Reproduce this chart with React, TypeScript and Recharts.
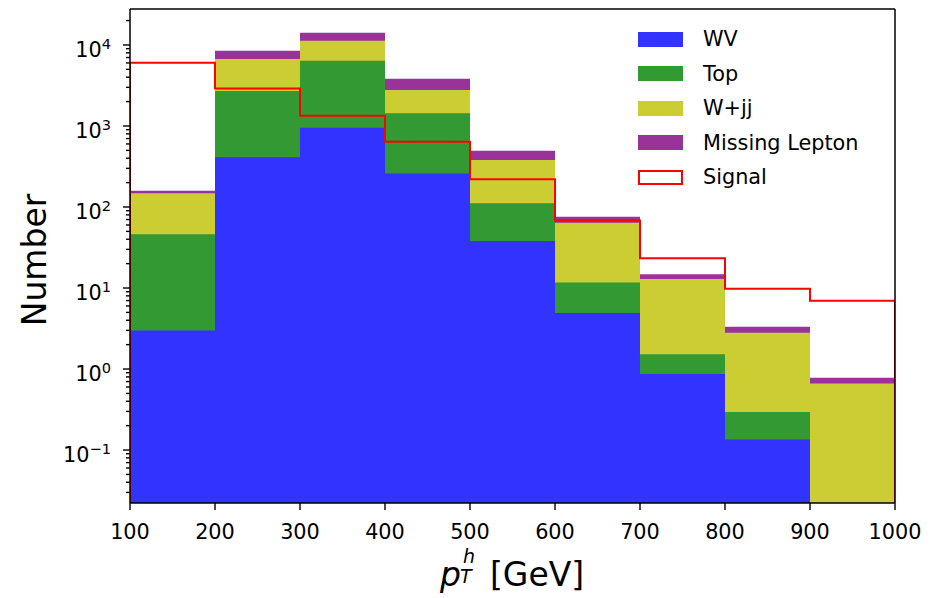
import { ComposedChart, Bar, Line, XAxis, YAxis, Label, ReferenceLine } from "recharts";

// ─── DATA ────────────────────────────────────────────────────────────

const BINS = ["100-200", "200-300", "300-400", "400-500", "500-600", "600-700", "700-800", "800-900", "900-1000"];
const EDGES = [100, 200, 300, 400, 500, 600, 700, 800, 900, 1000];

// per-bin contributions (stacked in this order)
const WV = [3.0, 410, 950, 260, 38, 4.9, 0.87, 0.135, 0];
const TOP = [43, 2290, 5450, 1175, 73, 6.8, 0.65, 0.16, 0];
const WJJ = [102, 4000, 4900, 1344, 269, 52.3, 11.4, 2.5, 0.665];
const MISSING_LEPTON = [11, 1800, 2900, 1060, 115, 12, 1.9, 0.53, 0.115];
const SIGNAL = [6050, 2900, 1340, 640, 220, 68, 23.3, 9.8, 6.97];

const X_TICKS = EDGES;
const Y_RANGE: [number, number] = [0.0222, 27800];

const COLORS = {
  wv: "#3333ff",
  top: "#339933",
  wjj: "#cccc33",
  ml: "#993399",
  signal: "#ff0000",
};

const FONT = "'DejaVu Sans', sans-serif";

// ─── DERIVED TABLES ──────────────────────────────────────────────────

// empty cells sit on the axis floor (log scale can't take 0)
const floor = (v: number) => Math.max(v, Y_RANGE[0]);

// cumulative heights, drawn back-to-front as overlapping bars
const stackRows = BINS.map((bin, i) => {
  const wv = WV[i];
  const top = wv + TOP[i];
  const wjj = top + WJJ[i];
  const ml = wjj + MISSING_LEPTON[i];
  return { bin, wv: floor(wv), top: floor(top), wjj: floor(wjj), ml: floor(ml) };
});

// histtype="step" outline: up at the first edge, down at the last
const signalRows = [
  { x: EDGES[0], y: Y_RANGE[0] },
  ...SIGNAL.map((v, i) => ({ x: EDGES[i], y: v })),
  { x: EDGES[EDGES.length - 1], y: SIGNAL[SIGNAL.length - 1] },
  { x: EDGES[EDGES.length - 1], y: Y_RANGE[0] },
];

// log ticks: majors at decades, minors at 2..9
const yTicks: number[] = [];
for (let e = -2; e <= 4; e++) {
  for (let m = 1; m <= 9; m++) {
    const v = m * Math.pow(10, e);
    if (v >= Y_RANGE[0] && v <= Y_RANGE[1]) yTicks.push(v);
  }
}

const LEGEND = [
  { name: "WV", color: COLORS.wv },
  { name: "Top", color: COLORS.top },
  { name: "W+jj", color: COLORS.wjj },
  { name: "Missing Lepton", color: COLORS.ml },
  { name: "Signal", color: COLORS.signal, outline: true },
];

// ─── TICKS ───────────────────────────────────────────────────────────

function YTick(props: any) {
  const { x, y, payload } = props;
  const lg = Math.log10(payload.value);
  const exp = Math.round(lg);
  const major = Math.abs(lg - exp) < 1e-6;
  return (
    <g>
      <line x1={x} x2={x - (major ? 7 : 4)} y1={y} y2={y} stroke="#000" strokeWidth={1.4} />
      {major && (
        <text x={x - 19} y={y + 11.7} textAnchor="end" fontSize={20.8} fill="#000" fontFamily={FONT}>
          10
          <tspan dy={-7.4} fontSize={14.6}>
            {exp < 0 ? `\u2212${-exp}` : exp}
          </tspan>
        </text>
      )}
    </g>
  );
}

// ─── COMPONENT ───────────────────────────────────────────────────────

export default function App() {
  return (
    <div style={{ position: "fixed", left: 0, top: 0, width: 934, height: 598, background: "#fff", fontFamily: FONT }}>
      <ComposedChart
        width={934}
        height={598}
        data={stackRows}
        margin={{ top: 9, right: 39, bottom: 0, left: 0 }}
        barGap="-100%"
        barCategoryGap={0}
      >
        <XAxis xAxisId="cat" dataKey="bin" hide height={0} />
        <YAxis
          scale="log"
          type="number"
          domain={Y_RANGE}
          allowDataOverflow
          ticks={yTicks}
          interval={0}
          width={130}
          tickSize={0}
          tickMargin={0}
          tickLine={false}
          tick={<YTick />}
          axisLine={{ stroke: "#000", strokeWidth: 1.5 }}
        >
          <Label
            content={() => (
              <text transform="translate(46,260) rotate(-90)" textAnchor="middle" fontSize={33} fill="#000" fontFamily={FONT}>
                Number
              </text>
            )}
          />
        </YAxis>

        <Bar xAxisId="cat" dataKey="ml" fill={COLORS.ml} isAnimationActive={false} />
        <Bar xAxisId="cat" dataKey="wjj" fill={COLORS.wjj} isAnimationActive={false} />
        <Bar xAxisId="cat" dataKey="top" fill={COLORS.top} isAnimationActive={false} />
        <Bar xAxisId="cat" dataKey="wv" fill={COLORS.wv} isAnimationActive={false} />

        <Line
          xAxisId="num"
          data={signalRows}
          dataKey="y"
          type="stepAfter"
          stroke={COLORS.signal}
          strokeWidth={2}
          dot={false}
          activeDot={false}
          isAnimationActive={false}
        />

        {/* top and right spines of the box */}
        <ReferenceLine xAxisId="num" y={Y_RANGE[1]} stroke="#000" strokeWidth={1.5} />
        <ReferenceLine xAxisId="num" x={EDGES[EDGES.length - 1]} stroke="#000" strokeWidth={1.5} />

        <XAxis
          xAxisId="num"
          type="number"
          dataKey="x"
          domain={[EDGES[0], EDGES[EDGES.length - 1]]}
          allowDataOverflow
          ticks={X_TICKS}
          interval={0}
          height={95}
          tickSize={7}
          tickMargin={14}
          tick={{ fontSize: 20.8, fill: "#000", fontFamily: FONT }}
          tickLine={{ stroke: "#000", strokeWidth: 1.4 }}
          axisLine={{ stroke: "#000", strokeWidth: 1.5 }}
        >
          <Label
            content={() => (
              <text fill="#000" fontFamily={FONT} fontSize={33}>
                <tspan x={440} y={586} fontStyle="italic">p</tspan>
                <tspan x={463} y={563} fontSize={19} fontStyle="italic">h</tspan>
                <tspan x={460} y={583} fontSize={19} fontStyle="italic">T</tspan>
                <tspan x={490} y={586}>[GeV]</tspan>
              </text>
            )}
          />
        </XAxis>
      </ComposedChart>

      {/* Legend */}
      {LEGEND.map((d, i) => (
        <div
          key={d.name}
          style={{ position: "absolute", left: 638, top: 27 + i * 34.5, height: 24, display: "flex", alignItems: "center", fontSize: 20.8, color: "#000" }}
        >
          <div
            style={{
              width: 45,
              height: 15,
              boxSizing: "border-box",
              background: d.outline ? "#fff" : d.color,
              border: d.outline ? `2px solid ${d.color}` : "none",
            }}
          />
          <span style={{ marginLeft: 20, whiteSpace: "nowrap" }}>{d.name}</span>
        </div>
      ))}
    </div>
  );
}
